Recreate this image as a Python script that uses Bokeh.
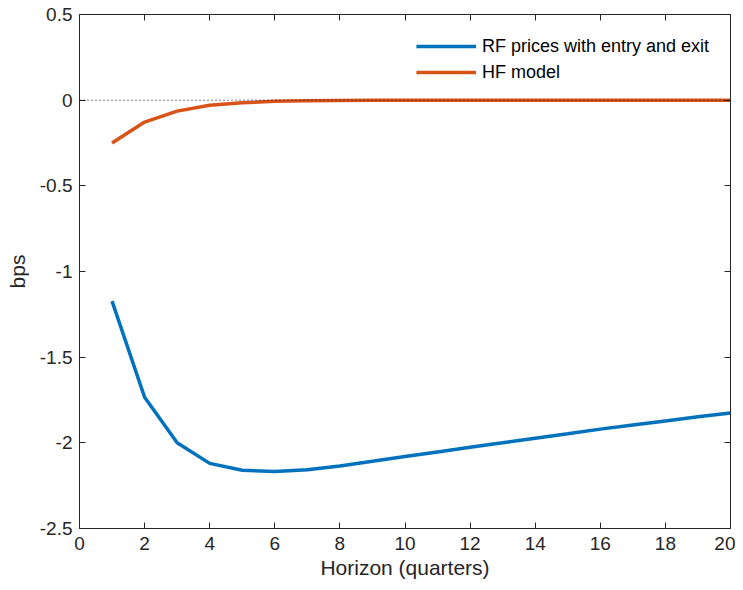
from bokeh.plotting import figure
from bokeh.models import LinearAxis, Range1d, FixedTicker, Span, Legend, LegendItem, CustomJSTickFormatter
from bokeh.embed import file_html
from bokeh.resources import INLINE

horizon = list(range(1, 21))
rf_prices = [-1.173, -1.734, -2.0, -2.12, -2.16, -2.168, -2.157, -2.135, -2.108, -2.08,
             -2.053, -2.026, -2.0, -1.973, -1.947, -1.92, -1.896, -1.872, -1.848, -1.826]
hf_model = [-0.25, -0.128, -0.064, -0.03, -0.015, -0.007, -0.003, -0.0015, -0.0007, -0.0003,
            0.0, 0.0, 0.0, 0.0, 0.0, 0.0, 0.0, 0.0, 0.0, 0.0]
x_ticks = list(range(0, 21, 2))
y_ticks = [-2.5, -2.0, -1.5, -1.0, -0.5, 0.0, 0.5]
y_tick_labels = {-2.5: "-2.5", -2.0: "-2", -1.5: "-1.5", -1.0: "-1", -0.5: "-0.5", 0.0: "0", 0.5: "0.5"}

FONT = "Liberation Sans"
AX = "#262626"

p = figure(width=735, height=582, output_backend="svg", toolbar_location=None,
           x_range=Range1d(0, 20), y_range=Range1d(-2.5, 0.5),
           min_border_left=79, min_border_right=5, min_border_top=14, min_border_bottom=54)
p.grid.visible = False
p.outline_line_color = None

for ax in (p.xaxis[0], p.yaxis[0]):
    ax.major_tick_in = 6
    ax.major_tick_out = 0
    ax.minor_tick_line_color = None
    ax.axis_line_color = AX
    ax.major_tick_line_color = AX
    ax.major_label_text_font = FONT
    ax.major_label_text_font_size = "19px"
    ax.major_label_text_color = AX
    ax.axis_label_text_font = FONT
    ax.axis_label_text_font_size = "21px"
    ax.axis_label_text_font_style = "normal"
    ax.axis_label_text_color = AX

p.xaxis[0].ticker = FixedTicker(ticks=x_ticks)
p.yaxis[0].ticker = FixedTicker(ticks=y_ticks)
p.yaxis[0].major_label_overrides = y_tick_labels
p.xaxis[0].axis_label = "Horizon (quarters)"
p.yaxis[0].axis_label = "bps"
p.xaxis[0].major_label_standoff = 8
p.yaxis[0].major_label_standoff = 7
p.xaxis[0].axis_label_standoff = 3
p.yaxis[0].axis_label_standoff = 8

blank = CustomJSTickFormatter(code="return '';")
top = LinearAxis(ticker=FixedTicker(ticks=x_ticks), formatter=blank,
                 major_tick_in=6, major_tick_out=0, minor_tick_line_color=None,
                 axis_line_color=AX, major_tick_line_color=AX, major_label_standoff=0)
right = LinearAxis(ticker=FixedTicker(ticks=y_ticks), formatter=blank,
                   major_tick_in=6, major_tick_out=0, minor_tick_line_color=None,
                   axis_line_color=AX, major_tick_line_color=AX, major_label_standoff=0)
p.add_layout(top, "above")
p.add_layout(right, "right")

p.add_layout(Span(location=0, dimension="width", line_color="black", line_dash="1 3", line_width=1))

r1 = p.line(horizon, rf_prices, line_color="#0072BD", line_width=3.5)
r2 = p.line(horizon, hf_model, line_color="#D95319", line_width=3.5)

legend = Legend(items=[LegendItem(label="RF prices with entry and exit", renderers=[r1]),
                       LegendItem(label="HF model", renderers=[r2])],
                location="top_right", border_line_color=None, background_fill_alpha=0.0,
                label_text_font=FONT, label_text_font_size="18px", label_text_color="black",
                glyph_width=60, glyph_height=22, spacing=4, padding=4, margin=21,
                label_standoff=6)
p.add_layout(legend)

open("out.html", "w").write(file_html(p, INLINE))
